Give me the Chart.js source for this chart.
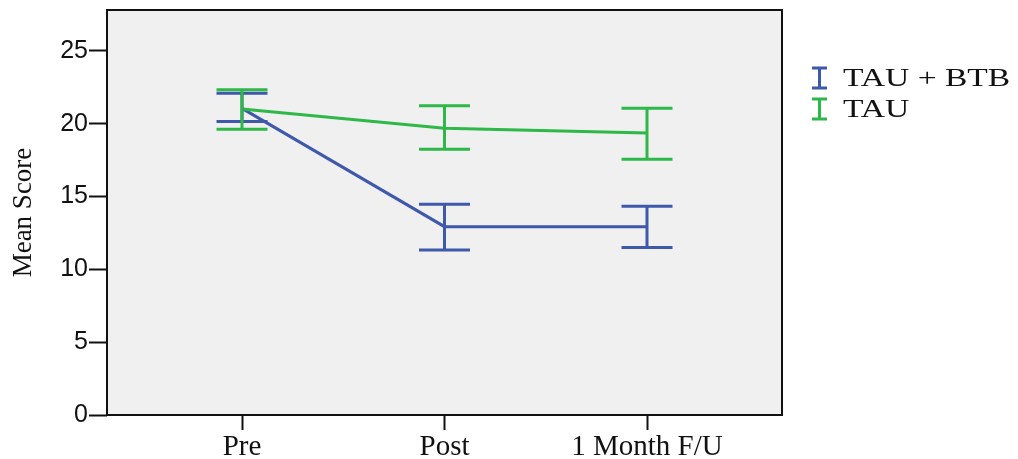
<!DOCTYPE html>
<html>
<head>
<meta charset="utf-8">
<script src="https://cdn.jsdelivr.net/npm/chart.js@4"></script>
<style>
html, body { margin: 0; padding: 0; background: #fff; }
#wrap { width: 1018px; height: 459px; position: relative; }
</style>
</head>
<body>
<div id="wrap"><canvas id="chart"></canvas></div>
<script>
// categories and series
const timepoints = ["Pre", "Post", "1 Month F/U"];
const seriesNames = ["TAU + BTB", "TAU"];
const btbMean = [21.05, 12.93, 12.93];
const btbLow = [20.14, 11.33, 11.49];
const btbHigh = [22.08, 14.47, 14.33];
const tauMean = [21.0, 19.69, 19.35];
const tauLow = [19.62, 18.25, 17.56];
const tauHigh = [22.32, 21.22, 21.06];
const yTicks = [0, 5, 10, 15, 20, 25];

const colors = ["#3e58ac", "#2eb848"];
const lows = [btbLow, tauLow];
const highs = [btbHigh, tauHigh];

function toPoints(vals) {
    return vals.map((v, i) => ({ x: i, y: v }));
}

// grey plot area and black frame
const framePlugin = {
    id: "frame",
    beforeDraw(chart) {
        const a = chart.chartArea;
        const ctx = chart.ctx;
        ctx.save();
        ctx.fillStyle = "#f0f0f0";
        ctx.fillRect(a.left, a.top, a.right - a.left, a.bottom - a.top);
        ctx.restore();
    },
    afterDraw(chart) {
        const a = chart.chartArea;
        const ctx = chart.ctx;
        ctx.save();
        ctx.strokeStyle = "#111";
        ctx.lineWidth = 2;
        ctx.strokeRect(a.left, a.top, a.right - a.left, a.bottom - a.top);
        ctx.restore();
    }
};

// error bars drawn through the chart's scales
const errorBarPlugin = {
    id: "errorBars",
    afterDatasetsDraw(chart) {
        const ctx = chart.ctx;
        const xs = chart.scales.x;
        const ys = chart.scales.y;
        const cap = 25.5;
        ctx.save();
        ctx.lineWidth = 3;
        for (let d = 0; d < lows.length; d++) {
            ctx.strokeStyle = colors[d];
            for (let i = 0; i < timepoints.length; i++) {
                const px = xs.getPixelForValue(i);
                const y1 = ys.getPixelForValue(lows[d][i]);
                const y2 = ys.getPixelForValue(highs[d][i]);
                ctx.beginPath();
                ctx.moveTo(px, y1);
                ctx.lineTo(px, y2);
                ctx.moveTo(px - cap, y1);
                ctx.lineTo(px + cap, y1);
                ctx.moveTo(px - cap, y2);
                ctx.lineTo(px + cap, y2);
                ctx.stroke();
            }
        }
        ctx.restore();
    }
};

// legend to the right with error bar icons
const legendPlugin = {
    id: "sideLegend",
    afterDraw(chart) {
        const ctx = chart.ctx;
        ctx.save();
        chart.data.datasets.forEach((ds, i) => {
            const cy = 78 + i * 31;
            ctx.strokeStyle = ds.borderColor;
            ctx.lineWidth = 3;
            ctx.beginPath();
            ctx.moveTo(812, cy - 10);
            ctx.lineTo(827, cy - 10);
            ctx.moveTo(819.5, cy - 10);
            ctx.lineTo(819.5, cy + 10);
            ctx.moveTo(812, cy + 10);
            ctx.lineTo(827, cy + 10);
            ctx.stroke();
            ctx.fillStyle = "#111";
            ctx.font = "26px 'Liberation Serif'";
            ctx.textBaseline = "middle";
            ctx.save();
            ctx.translate(843, cy + 1);
            ctx.scale(1.29, 1);
            ctx.fillText(ds.label, 0, 0);
            ctx.restore();
        });
        ctx.restore();
    }
};

new Chart("chart", {
    type: "line",
    data: {
        datasets: [
            { label: seriesNames[0], data: toPoints(btbMean), borderColor: colors[0], borderWidth: 3, order: 2 },
            { label: seriesNames[1], data: toPoints(tauMean), borderColor: colors[1], borderWidth: 3, order: 1 }
        ]
    },
    options: {
        responsive: true,
        maintainAspectRatio: false,
        animation: false,
        layout: { padding: { left: 0, top: 10, right: 236, bottom: 0 } },
        elements: { point: { radius: 0 }, line: { tension: 0 } },
        plugins: { legend: { display: false }, tooltip: { enabled: false } },
        scales: {
            x: {
                type: "linear",
                min: -2 / 3,
                max: 8 / 3,
                afterBuildTicks: s => { s.ticks = timepoints.map((_, i) => ({ value: i })); },
                afterFit: s => { s.height = 44; s.paddingLeft = 0; s.paddingRight = 0; },
                ticks: {
                    callback: (v, i) => timepoints[i],
                    font: { family: "'Liberation Serif'", size: 29 },
                    color: "#111",
                    padding: 0,
                    maxRotation: 0,
                    autoSkip: false
                },
                grid: { drawOnChartArea: false, tickLength: 15, tickWidth: 2, tickColor: "#111" },
                border: { display: false }
            },
            y: {
                min: 0,
                max: 27.8,
                afterBuildTicks: s => { s.ticks = yTicks.map(v => ({ value: v })); },
                afterFit: s => { s.width = 107; s.paddingTop = 0; s.paddingBottom = 0; },
                ticks: {
                    font: { family: "'Liberation Sans'", size: 25 },
                    color: "#111",
                    padding: 1
                },
                grid: { drawOnChartArea: false, tickLength: 18, tickWidth: 2, tickColor: "#111" },
                border: { display: false },
                title: {
                    display: true,
                    text: "Mean Score",
                    font: { family: "'Liberation Serif'", size: 27 },
                    color: "#111",
                    padding: { top: 8, bottom: 0 }
                }
            }
        }
    },
    plugins: [framePlugin, errorBarPlugin, legendPlugin]
});
</script>
</body>
</html>
